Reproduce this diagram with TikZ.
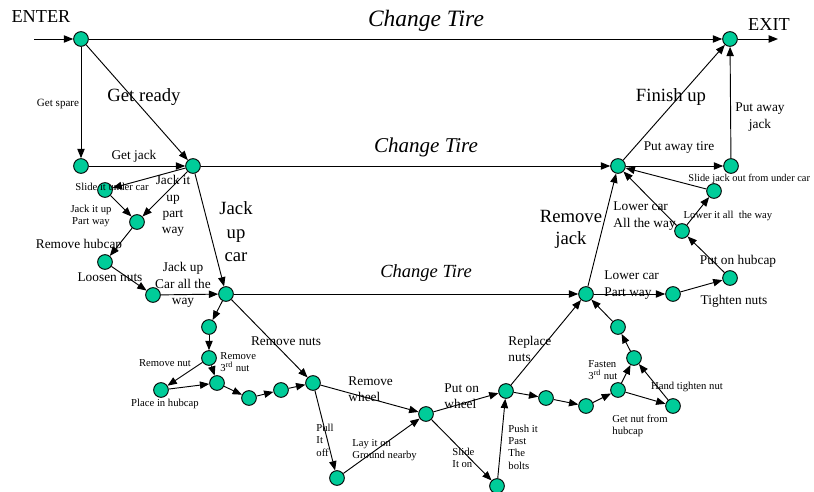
\documentclass[tikz,border=0pt]{standalone}
\usepackage{fontspec}
\setmainfont{Liberation Serif}
\usepackage{tikz}
\usetikzlibrary{arrows.meta, positioning}
\definecolor{stategreen}{HTML}{00CC99}

\begin{document}
\begin{tikzpicture}[x=0.75pt,y=-0.75pt,line width=0.7pt,
  >={Triangle[length=7pt,width=5.5pt]},
  st/.style={circle,draw,fill=stategreen,inner sep=0pt,minimum size=11pt},
  lsmall/.style={font=\fontsize{8}{9.3}\selectfont,inner sep=0pt,align=left},
  lmed/.style={font=\fontsize{10}{12.2}\selectfont,inner sep=0pt,align=left},
  lbig/.style={font=\fontsize{14}{16.5}\selectfont,inner sep=0pt,align=center},
  ltire/.style={font={\fontsize{#1}{#1}\selectfont\itshape},inner sep=0pt}]
  \useasboundingbox (0,0) rectangle (814,492);
  % states
  \node[st] (enter) at (81,39) {};
  \node[st] (exit) at (730,39) {};
  \node[st] (spare) at (81,166) {};
  \node[st] (ready) at (193,166) {};
  \node[st] (under) at (105,190) {};
  \node[st] (partway) at (137,222) {};
  \node[st] (hubcap) at (105,262) {};
  \node[st] (loosen) at (153,295) {};
  \node[st] (jacked) at (226,294) {};
  \node[st] (nut1) at (209,327) {};
  \node[st] (nut2) at (209,358) {};
  \node[st] (inhub) at (161,390) {};
  \node[st] (nut3) at (217,383) {};
  \node[st] (nut4) at (249,398) {};
  \node[st] (nut5) at (281,390) {};
  \node[st] (nutsoff) at (313,383) {};
  \node[st] (pulled) at (337,478) {};
  \node[st] (wheeloff) at (426,414) {};
  \node[st] (slidon) at (497,486) {};
  \node[st] (wheelon) at (506,391) {};
  \node[st] (fast1) at (546,398) {};
  \node[st] (fast2) at (586,406) {};
  \node[st] (fast3) at (618,390) {};
  \node[st] (getnut) at (673,406) {};
  \node[st] (fast4) at (634,358) {};
  \node[st] (fast5) at (618,327) {};
  \node[st] (lowered) at (586,294) {};
  \node[st] (tight1) at (673,294) {};
  \node[st] (tight2) at (730,278) {};
  \node[st] (lowall) at (682,231) {};
  \node[st] (slidout) at (714,191) {};
  \node[st] (removed) at (618,166) {};
  \node[st] (jackaway) at (731,166) {};
  \coordinate (inpt) at (34,39);
  \coordinate (outpt) at (778,39);
  % top level
  \draw[->] (inpt) -- (enter);
  \draw[->] (enter) -- (exit);
  \draw[->] (exit) -- (outpt);
  \draw[->] (enter) -- (spare);
  \draw[->] (enter) -- (ready);
  \draw[->] (ready) -- (removed);
  \draw[->] (removed) -- (exit);
  % get ready
  \draw[->] (spare) -- (ready);
  % jack up car
  \draw[->] (ready) -- (under);
  \draw[->] (under) -- (partway);
  \draw[->] (ready) -- (partway);
  \draw[->] (partway) -- (hubcap);
  \draw[->] (hubcap) -- (loosen);
  \draw[->] (loosen) -- (jacked);
  \draw[->] (ready) -- (jacked);
  % change tire
  \draw[->] (jacked) -- (lowered);
  \draw[->] (jacked) -- (nut1);
  \draw[->] (nut1) -- (nut2);
  \draw[->] (nut2) -- (inhub);
  \draw[->] (inhub) -- (nut3);
  \draw[->] (nut2) -- (nut3);
  \draw[->] (nut3) -- (nut4);
  \draw[->] (nut4) -- (nut5);
  \draw[->] (nut5) -- (nutsoff);
  \draw[->] (jacked) -- (nutsoff);
  \draw[->] (nutsoff) -- (wheeloff);
  \draw[->] (nutsoff) -- (pulled);
  \draw[->] (pulled) -- (wheeloff);
  \draw[->] (wheeloff) -- (wheelon);
  \draw[->] (wheeloff) -- (slidon);
  \draw[->] (slidon) -- (wheelon);
  \draw[->] (wheelon) -- (lowered);
  \draw[->] (wheelon) -- (fast1);
  \draw[->] (fast1) -- (fast2);
  \draw[->] (fast2) -- (fast3);
  \draw[->] (fast3) -- (getnut);
  \draw[->] (getnut) -- (fast4);
  \draw[->] (fast3) -- (fast4);
  \draw[->] (fast4) -- (fast5);
  \draw[->] (fast5) -- (lowered);
  % remove jack
  \draw[->] (lowered) -- (removed);
  \draw[->] (lowered) -- (tight1);
  \draw[->] (tight1) -- (tight2);
  \draw[->] (tight2) -- (lowall);
  \draw[->] (lowall) -- (removed);
  \draw[->] (lowall) -- (slidout);
  \draw[->] (slidout) -- (removed);
  % finish up
  \draw[->] (removed) -- (jackaway);
  \draw[->] (jackaway) -- (exit);
  % labels
  \node[font=\fontsize{13.7}{16}\selectfont,inner sep=0pt] (tEnter) at (41,17) {ENTER};
  \node[font=\fontsize{13.7}{16}\selectfont,inner sep=0pt] (tExit) at (769,25) {EXIT};
  \node[ltire=17.6] (tTireA) at (426,21) {Change Tire};
  \node[ltire=15.8] (tTireB) at (426,147) {Change Tire};
  \node[ltire=13.9] (tTireC) at (426,273) {Change Tire};
  \node[lsmall,font=\fontsize{8.3}{9.5}\selectfont] (tSpare) at (58,104) {Get spare};
  \node[lbig] (tReady) at (144,97) {Get ready};
  \node[lmed] (tJack) at (134,156) {Get jack};
  \node[lsmall] (tUnder) at (112,187) {Slide it under car};
  \node[lsmall,align=center] (tPart) at (91,216) {Jack it up\\Part way};
  \node[lmed,align=center] (tPartB) at (173,206) {Jack it\\up\\part\\way};
  \node[lbig,font=\fontsize{14}{17.6}\selectfont] (tJackUp) at (236,232) {Jack\\up\\car};
  \node[lmed] (tHubcap) at (79,245) {Remove hubcap};
  \node[lmed] (tLoosen) at (110,277) {Loosen nuts};
  \node[lmed,align=center] (tAllWay) at (183,285) {Jack up\\Car all the\\way};
  \node[lsmall] (tNut) at (165,363) {Remove nut};
  \node[lsmall,anchor=west] (tThird) at (220,362) {Remove\\3\textsuperscript{rd} nut};
  \node[lsmall] (tInHub) at (165,404) {Place in hubcap};
  \node[lmed] (tNuts) at (286,341) {Remove nuts};
  \node[lmed,anchor=west] (tWheelOff) at (348,389) {Remove\\wheel};
  \node[lsmall,anchor=west] (tPull) at (316,440) {Pull\\It\\off};
  \node[lsmall,anchor=west] (tLay) at (352,450) {Lay it on\\Ground nearby};
  \node[lmed,anchor=west] (tWheelOn) at (444,396) {Put on\\wheel};
  \node[lsmall,anchor=west] (tSlideOn) at (452,458) {Slide\\It on};
  \node[lsmall,anchor=west] (tPush) at (508,447) {Push it\\Past\\The\\bolts};
  \node[lmed,anchor=west] (tReplace) at (508,349) {Replace\\nuts};
  \node[lsmall,anchor=west] (tFasten) at (588,370) {Fasten\\3\textsuperscript{rd} nut};
  \node[lsmall,anchor=west] (tGetNut) at (612,426) {Get nut from\\hubcap};
  \node[lsmall] (tHand) at (687,387) {Hand tighten nut};
  \node[lmed,anchor=west] (tLowPart) at (604,285) {Lower car\\Part way};
  \node[lmed] (tTighten) at (734,301) {Tighten nuts};
  \node[lmed] (tPutHub) at (738,261) {Put on hubcap};
  \node[lmed,anchor=west] (tLowAll) at (613,216) {Lower car\\All the way};
  \node[lsmall] (tLowIt) at (728,216) {Lower it all~ the way};
  \node[lsmall,font=\fontsize{7.8}{9}\selectfont,anchor=west] (tSlideOut) at (688,179) {Slide jack out from under car};
  \node[lbig] (tRemJack) at (571,229) {Remove\\jack};
  \node[lmed] (tTire) at (679,148) {Put away tire};
  \node[lmed,align=center] (tJackAway) at (760,117) {Put away\\jack};
  \node[lbig] (tFinish) at (671,97) {Finish up};
\end{tikzpicture}
\end{document}
